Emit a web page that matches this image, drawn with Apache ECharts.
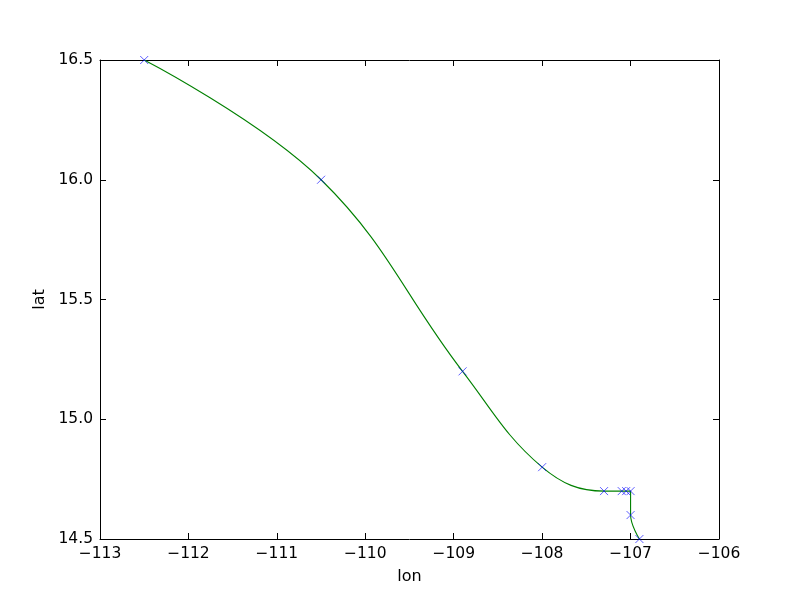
<!DOCTYPE html>
<html>
<head>
<meta charset="utf-8">
<script src="https://cdn.jsdelivr.net/npm/echarts@6/dist/echarts.min.js"></script>
<style>html,body{margin:0;padding:0;background:#fff}#c{width:800px;height:600px}</style>
</head>
<body>
<div id="c"></div>
<script>
const lon = [-112.5, -110.5, -108.9, -108.0, -107.3, -107.1, -107.05, -107.0, -107.0, -106.9];
const lat = [16.5, 16.0, 15.2, 14.8, 14.7, 14.7, 14.7, 14.7, 14.6, 14.5];
const xTicks = [-113, -112, -111, -110, -109, -108, -107, -106];
const yTicks = [14.5, 15.0, 15.5, 16.0, 16.5];

const pts = lon.map((x, i) => [x, lat[i]]);
const font = 'DejaVu Sans';
const fmtX = v => String(v).replace('-', '\u2212');
const fmtY = v => v.toFixed(1);
const chart = echarts.init(document.getElementById('c'), null, {renderer: 'canvas'});
const axLine = {show: true, lineStyle: {color: '#000', width: 1}};
const tick = {show: true, inside: true, length: 6, lineStyle: {color: '#000', width: 1}};
chart.setOption({
  animation: false,
  backgroundColor: '#fff',
  grid: {left: 100, right: 81, top: 60, bottom: 61, show: false},
  xAxis: [{
    type: 'value', min: xTicks[0], max: xTicks[xTicks.length - 1], interval: 1, position: 'bottom',
    name: 'lon', nameLocation: 'middle', nameGap: 30,
    nameTextStyle: {fontFamily: font, fontSize: 16, color: '#000'},
    axisLine: axLine, axisTick: tick, splitLine: {show: false},
    axisLabel: {fontFamily: font, fontSize: 15.5, color: '#000', margin: 7, formatter: fmtX}
  }, {
    type: 'value', min: xTicks[0], max: xTicks[xTicks.length - 1], interval: 1, position: 'top',
    axisLine: axLine, axisTick: tick, splitLine: {show: false}, axisLabel: {show: false}
  }],
  yAxis: [{
    type: 'value', min: yTicks[0], max: yTicks[yTicks.length - 1], interval: 0.5, position: 'left',
    name: 'lat', nameLocation: 'middle', nameGap: 48, nameRotate: 90,
    nameTextStyle: {fontFamily: font, fontSize: 16, color: '#000'},
    axisLine: axLine, axisTick: tick, splitLine: {show: false},
    axisLabel: {fontFamily: font, fontSize: 15.5, color: '#000', margin: 7, formatter: fmtY}
  }, {
    type: 'value', min: yTicks[0], max: yTicks[yTicks.length - 1], interval: 0.5, position: 'right',
    axisLine: axLine, axisTick: tick, splitLine: {show: false}, axisLabel: {show: false}
  }],
  series: [{
    type: 'line', data: pts, smooth: 0.4, showSymbol: false,
    lineStyle: {color: '#008000', width: 1.1}, clip: false
  }, {
    type: 'scatter', data: pts, symbol: 'path://M0,0L10,10M10,0L0,10', symbolSize: 8,
    itemStyle: {color: 'rgba(0,0,0,0)', borderColor: '#0000ff', borderWidth: 0.8}, clip: false, z: 3
  }]
});
</script>
</body>
</html>
